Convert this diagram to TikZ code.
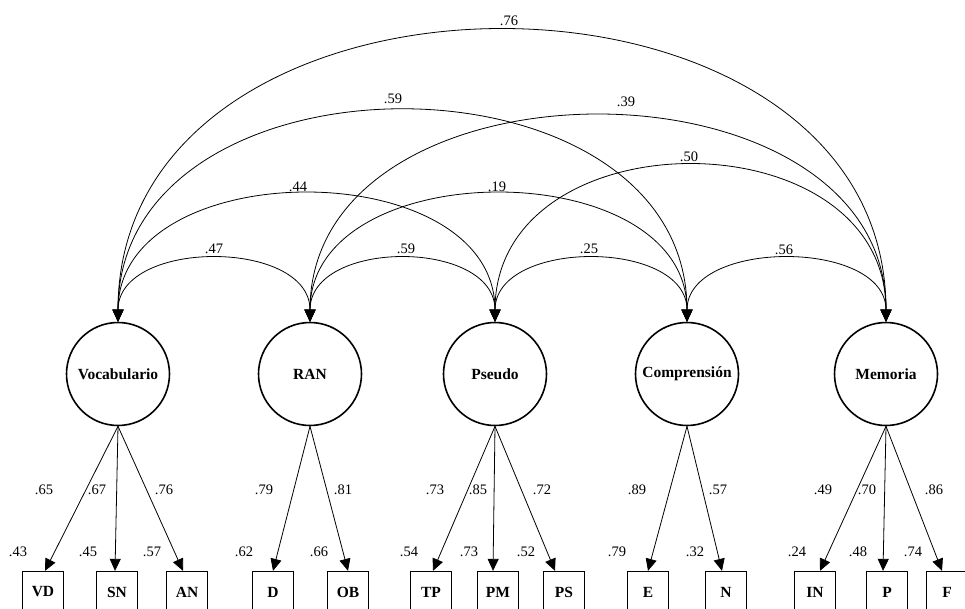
\documentclass[tikz,border=0pt]{standalone}
\usepackage{fontspec}
\setmainfont{Liberation Serif}
\usetikzlibrary{arrows.meta}
\begin{document}
\begin{tikzpicture}[x=1pt,y=-1pt,
  lat/.style={circle,draw,line width=1.6pt,minimum size=103pt,inner sep=0pt,font=\fontsize{15.5}{17}\selectfont\bfseries},
  obs/.style={rectangle,draw,line width=1.3pt,minimum width=41pt,minimum height=41pt,inner sep=0pt,font=\fontsize{15.5}{17}\selectfont\bfseries},
  num/.style={font=\fontsize{14.5}{16}\selectfont,inner sep=0pt},
  tip/.style={>={Triangle[length=12pt,width=11pt]}},
  cov/.style={<->,tip,line width=0.8pt},
  load/.style={->,tip,line width=0.8pt}]
\useasboundingbox (0,0) rectangle (965,608);
\clip (0,0) rectangle (965,608);
% latent variables
\node[lat] (voc) at (118,374) {Vocabulario};
\node[lat] (ran) at (310,374) {RAN};
\node[lat] (pse) at (495,374) {Pseudo};
\node[lat] (com) at (687,374) {Comprensión};
\node[lat] (mem) at (886,374) {Memoria};
% observed variables
\node[obs] (VD) at (43,592) {VD};
\node[obs] (SN) at (117,592) {SN};
\node[obs] (AN) at (187,592) {AN};
\node[obs] (D) at (273,592) {D};
\node[obs] (OB) at (348,592) {OB};
\node[obs] (TP) at (431,592) {TP};
\node[obs] (PM) at (498,592) {PM};
\node[obs] (PS) at (564,592) {PS};
\node[obs] (E) at (648,592) {E};
\node[obs] (N) at (726,592) {N};
\node[obs] (IN) at (815,592) {IN};
\node[obs] (P) at (887,592) {P};
\node[obs] (F) at (947,592) {F};
% loadings
\draw[load] (voc.south) -- ([xshift=2pt]VD.north);
\draw[load] (voc.south) -- ([xshift=-2pt]SN.north);
\draw[load] (voc.south) -- ([xshift=-4pt]AN.north);
\draw[load] (ran.south) -- (D.north);
\draw[load] (ran.south) -- (OB.north);
\draw[load] (pse.south) -- ([xshift=2pt]TP.north);
\draw[load] (pse.south) -- ([xshift=-5pt]PM.north);
\draw[load] (pse.south) -- ([xshift=-9pt]PS.north);
\draw[load] (com.south) -- (E.north);
\draw[load] (com.south) -- ([xshift=-4pt]N.north);
\draw[load] (mem.south) -- ([xshift=5pt]IN.north);
\draw[load] (mem.south) -- ([xshift=-4pt]P.north);
\draw[load] (mem.south) -- ([xshift=-5pt]F.north);
% covariances
\draw[cov] (voc.north) .. controls +(0,-83) and +(0,-83) .. (ran.north);
\draw[cov] (ran.north) .. controls +(0,-83) and +(0,-83) .. (pse.north);
\draw[cov] (pse.north) .. controls +(0,-83) and +(0,-83) .. (com.north);
\draw[cov] (com.north) .. controls +(0,-83) and +(0,-83) .. (mem.north);
\draw[cov] (voc.north) .. controls +(0,-169) and +(0,-169) .. (pse.north);
\draw[cov] (ran.north) .. controls +(0,-169) and +(0,-169) .. (com.north);
\draw[cov] (pse.north) .. controls +(0,-207) and +(0,-207) .. (mem.north);
\draw[cov] (voc.north) .. controls +(0,-280) and +(0,-280) .. (com.north);
\draw[cov] (ran.north) .. controls +(0,-273) and +(0,-273) .. (mem.north);
\draw[cov] (voc.north) .. controls +(0,-387) and +(0,-387) .. (mem.north);
% covariance labels
\node[num] (c1) at (509,21) {.76};
\node[num] (c2) at (393,99) {.59};
\node[num] (c3) at (626,102) {.39};
\node[num] (c4) at (689,157) {.50};
\node[num] (c5) at (298,187) {.44};
\node[num] (c6) at (497,187) {.19};
\node[num] (c7) at (214,249) {.47};
\node[num] (c8) at (406,249) {.59};
\node[num] (c9) at (589,249) {.25};
\node[num] (c10) at (784,250) {.56};
% loading labels
\node[num] (l1) at (44,490) {.65};
\node[num] (l2) at (97,490) {.67};
\node[num] (l3) at (164,490) {.76};
\node[num] (l4) at (264,490) {.79};
\node[num] (l5) at (343,490) {.81};
\node[num] (l6) at (435,490) {.73};
\node[num] (l7) at (478,490) {.85};
\node[num] (l8) at (542,490) {.72};
\node[num] (l9) at (637,490) {.89};
\node[num] (l10) at (718,490) {.57};
\node[num] (l11) at (823,490) {.49};
\node[num] (l12) at (867,490) {.70};
\node[num] (l13) at (934,490) {.86};
% residual labels
\node[num] (r1) at (18,552) {.43};
\node[num] (r2) at (88,552) {.45};
\node[num] (r3) at (152,552) {.57};
\node[num] (r4) at (244,552) {.62};
\node[num] (r5) at (319,552) {.66};
\node[num] (r6) at (409,552) {.54};
\node[num] (r7) at (469,552) {.73};
\node[num] (r8) at (526,552) {.52};
\node[num] (r9) at (617,552) {.79};
\node[num] (r10) at (695,552) {.32};
\node[num] (r11) at (797,552) {.24};
\node[num] (r12) at (858,552) {.48};
\node[num] (r13) at (913,552) {.74};
\end{tikzpicture}
\end{document}
